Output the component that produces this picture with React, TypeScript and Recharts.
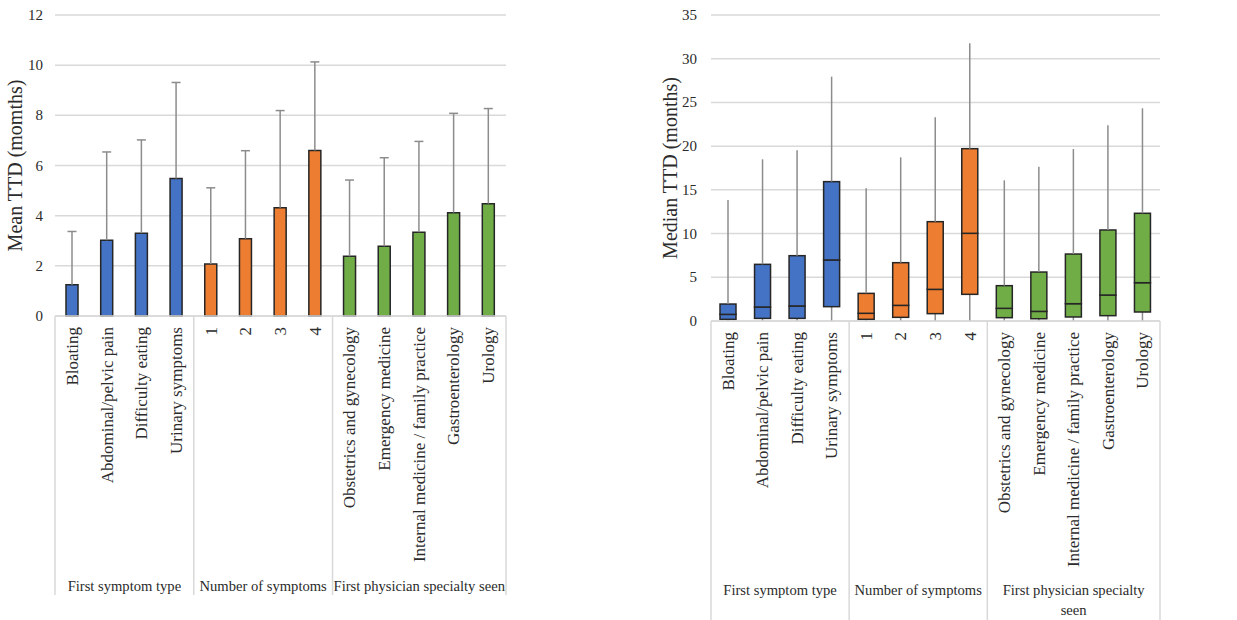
import React from 'react';
import { BarChart, Bar, XAxis, YAxis, CartesianGrid, Cell } from 'recharts';

const categories = [
  'Bloating', 'Abdominal/pelvic pain', 'Difficulty eating', 'Urinary symptoms',
  '1', '2', '3', '4',
  'Obstetrics and gynecology', 'Emergency medicine', 'Internal medicine / family practice',
  'Gastroenterology', 'Urology',
];
const groups = [
  'First symptom type', 'First symptom type', 'First symptom type', 'First symptom type',
  'Number of symptoms', 'Number of symptoms', 'Number of symptoms', 'Number of symptoms',
  'First physician specialty seen', 'First physician specialty seen', 'First physician specialty seen',
  'First physician specialty seen', 'First physician specialty seen',
];

// left panel: mean with upper error bar end
const meanTTD = [1.25, 3.02, 3.3, 5.48, 2.07, 3.08, 4.32, 6.6, 2.38, 2.78, 3.34, 4.12, 4.48];
const meanUpper = [3.37, 6.54, 7.02, 9.31, 5.11, 6.59, 8.19, 10.13, 5.42, 6.31, 6.96, 8.08, 8.27];

// right panel: box plot
const minTTD = [0, 0, 0, 0, 0, 0, 0, 0, 0, 0, 0, 0, 0];
const q1TTD = [0.19, 0.3, 0.3, 1.64, 0.19, 0.42, 0.84, 3.05, 0.38, 0.26, 0.46, 0.61, 1.03];
const medianTTD = [0.76, 1.6, 1.72, 6.98, 0.88, 1.79, 3.62, 10.03, 1.45, 1.1, 1.98, 2.97, 4.38];
const q3TTD = [1.94, 6.48, 7.47, 15.94, 3.16, 6.67, 11.36, 19.71, 4.04, 5.6, 7.66, 10.41, 12.32];
const maxTTD = [13.84, 18.49, 19.52, 27.95, 15.17, 18.72, 23.3, 31.76, 16.09, 17.65, 19.67, 22.38, 24.33];

const meanTicks = [0, 2, 4, 6, 8, 10, 12];
const medianTicks = [0, 5, 10, 15, 20, 25, 30, 35];

const GROUP_COLORS: Record<string, string> = {
  'First symptom type': '#4472C4',
  'Number of symptoms': '#ED7D31',
  'First physician specialty seen': '#70AD47',
};

const FONT = '"Liberation Serif", "Times New Roman", serif';
const TEXT = '#2b2b2b';
const GRID = '#d9d9d9';
const WHISKER = '#8c8c8c';
const EDGE = '#262626';

const meanData = categories.map((name, i) => ({
  name,
  group: groups[i],
  mean: meanTTD[i],
  err: meanUpper[i] - meanTTD[i],
}));

const boxData = categories.map((name, i) => ({
  name,
  group: groups[i],
  base: minTTD[i],
  lo: q1TTD[i] - minTTD[i],
  b1: medianTTD[i] - q1TTD[i],
  b2: q3TTD[i] - medianTTD[i],
  hi: maxTTD[i] - q3TTD[i],
}));

function wrap(text: string, maxChars: number) {
  const words = text.split(' ');
  const lines: string[] = [];
  let cur = '';
  words.forEach(w => {
    const next = cur ? cur + ' ' + w : w;
    if (next.length > maxChars && cur) {
      lines.push(cur);
      cur = w;
    } else cur = next;
  });
  if (cur) lines.push(cur);
  return lines;
}

const CategoryTick = (props: any) => {
  const { x, y, payload, index, width, labelTop, groupY, sepLen, maxChars } = props;
  const band = payload && payload.offset ? payload.offset * 2 : width / categories.length;
  const g = groups[index];
  const isFirst = index === 0 || groups[index - 1] !== g;
  const isLast = index === groups.length - 1;
  const count = groups.filter(v => v === g).length;
  const left = x - band / 2;
  return (
    <g>
      <text
        transform={`translate(${x},${y + labelTop}) rotate(-90)`}
        textAnchor="end"
        dominantBaseline="central"
        fontFamily={FONT}
        fontSize={17}
        fill={TEXT}
      >
        {payload.value}
      </text>
      {isFirst && (
        <>
          <line x1={left} x2={left} y1={y} y2={y + sepLen} stroke={GRID} strokeWidth={1.5} />
          <text textAnchor="middle" fontFamily={FONT} fontSize={14.6} fill={TEXT}>
            {wrap(g, maxChars).map((ln, k) => (
              <tspan key={k} x={left + (count * band) / 2} y={y + groupY + k * 20}>{ln}</tspan>
            ))}
          </text>
        </>
      )}
      {isLast && (
        <line x1={x + band / 2} x2={x + band / 2} y1={y} y2={y + sepLen} stroke={GRID} strokeWidth={1.5} />
      )}
    </g>
  );
};

const ValueTick = (props: any) => {
  const { x, y, payload } = props;
  return (
    <text x={x} y={y} textAnchor="end" dominantBaseline="central" fontFamily={FONT} fontSize={15} fill={TEXT}>
      {payload.value}
    </text>
  );
};

const ErrorShape = (props: any) => {
  const { x, y, width, height } = props;
  const cx = x + width / 2;
  return (
    <g>
      <line x1={cx} x2={cx} y1={y + height} y2={y} stroke={WHISKER} strokeWidth={1.5} />
      <line x1={cx - 4.5} x2={cx + 4.5} y1={y} y2={y} stroke={WHISKER} strokeWidth={1.5} />
    </g>
  );
};

const WhiskerShape = (props: any) => {
  const { x, y, width, height } = props;
  const cx = x + width / 2;
  return <line x1={cx} x2={cx} y1={y + height} y2={y} stroke={WHISKER} strokeWidth={1.5} />;
};

const BoxShape = (props: any) => {
  const { x, y, width, height, payload } = props;
  return (
    <rect
      x={x}
      y={y}
      width={width}
      height={height}
      fill={GROUP_COLORS[payload.group]}
      stroke={EDGE}
      strokeWidth={1.5}
    />
  );
};

export default function App() {
  return (
    <div style={{ position: 'absolute', left: 0, top: 0, width: 1237, height: 620, background: '#fff' }}>
      {/* Mean TTD */}
      <div style={{ position: 'absolute', left: 0, top: 0 }}>
        <BarChart width={520} height={620} data={meanData} margin={{ top: 15, right: 14, left: 0, bottom: 0 }} barSize={12}>
          <CartesianGrid vertical={false} stroke={GRID} strokeWidth={1.5} />
          <XAxis
            dataKey="name"
            interval={0}
            height={304}
            tickLine={false}
            tickSize={0}
            tickMargin={0}
            axisLine={{ stroke: GRID, strokeWidth: 1.5 }}
            tick={(p: any) => <CategoryTick {...p} labelTop={11} groupY={275} sepLen={279} maxChars={40} />}
          />
          <YAxis
            width={55}
            domain={[0, 12]}
            ticks={meanTicks}
            axisLine={false}
            tickLine={false}
            tickSize={0}
            tickMargin={12}
            tick={ValueTick}
            label={{
              value: 'Mean TTD (momths)',
              angle: -90,
              position: 'insideLeft',
              offset: 15,
              style: { textAnchor: 'middle', fontFamily: FONT, fontSize: 20, fill: TEXT },
            }}
          />
          <Bar dataKey="mean" stackId="m" stroke={EDGE} strokeWidth={1.5} isAnimationActive={false}>
            {meanData.map((d, i) => (
              <Cell key={i} fill={GROUP_COLORS[d.group]} />
            ))}
          </Bar>
          <Bar dataKey="err" stackId="m" shape={ErrorShape} isAnimationActive={false} />
        </BarChart>
      </div>

      {/* Median TTD */}
      <div style={{ position: 'absolute', left: 640, top: 0 }}>
        <BarChart width={597} height={620} data={boxData} margin={{ top: 15, right: 77, left: 0, bottom: 0 }} barSize={16}>
          <CartesianGrid vertical={false} stroke={GRID} strokeWidth={1.5} />
          <XAxis
            dataKey="name"
            interval={0}
            height={299}
            tickLine={false}
            tickSize={0}
            tickMargin={0}
            axisLine={{ stroke: GRID, strokeWidth: 1.5 }}
            tick={(p: any) => <CategoryTick {...p} labelTop={11} groupY={274} sepLen={300} maxChars={26} />}
          />
          <YAxis
            width={71}
            domain={[0, 35]}
            ticks={medianTicks}
            axisLine={false}
            tickLine={false}
            tickSize={0}
            tickMargin={14}
            tick={ValueTick}
            label={{
              value: 'Median TTD (months)',
              angle: -90,
              position: 'insideLeft',
              offset: 30,
              style: { textAnchor: 'middle', fontFamily: FONT, fontSize: 20, fill: TEXT },
            }}
          />
          <Bar dataKey="base" stackId="b" fill="none" isAnimationActive={false} />
          <Bar dataKey="lo" stackId="b" shape={WhiskerShape} isAnimationActive={false} />
          <Bar dataKey="b1" stackId="b" shape={BoxShape} isAnimationActive={false} />
          <Bar dataKey="b2" stackId="b" shape={BoxShape} isAnimationActive={false} />
          <Bar dataKey="hi" stackId="b" shape={WhiskerShape} isAnimationActive={false} />
        </BarChart>
      </div>
    </div>
  );
}
